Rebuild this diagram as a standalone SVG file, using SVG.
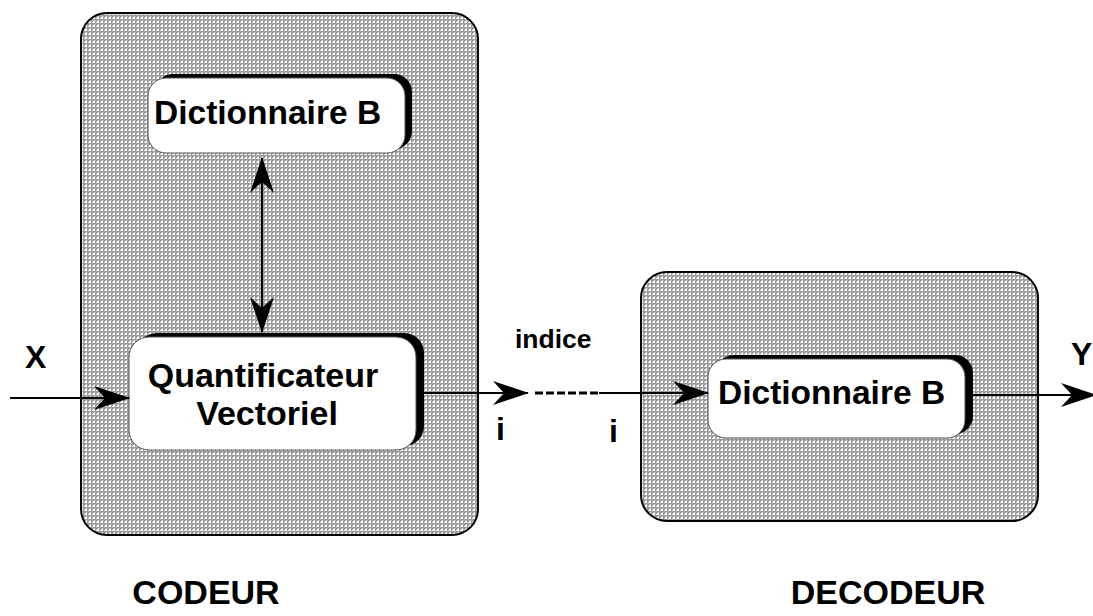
<svg xmlns="http://www.w3.org/2000/svg" width="1093" height="616" viewBox="0 0 1093 616">
  <defs>
    <!-- fine halftone fill used by the coder/decoder enclosures -->
    <pattern id="dots" width="4" height="4" patternUnits="userSpaceOnUse">
      <rect width="4" height="4" fill="#9c9c9c"/>
      <rect x="1" y="1" width="2" height="2" fill="#ffffff"/>
      <rect x="0" y="2" width="1" height="1" fill="#e0e0e0"/>
      <rect x="2" y="0" width="1" height="1" fill="#e0e0e0"/>
    </pattern>
    <marker id="head" viewBox="0 0 36 24" refX="35" refY="12" markerWidth="36" markerHeight="24" markerUnits="userSpaceOnUse" orient="auto-start-reverse">
      <path d="M0,0 L36,12 L0,24 L11,12 Z" fill="#000"/>
    </marker>
  </defs>
  <style>
    .frame { fill: url(#dots); stroke: #000; stroke-width: 2; }
    .shadow { fill: #000; }
    .card { fill: #fff; stroke: #555; stroke-width: 1; }
    .lbl { font-family: "Liberation Sans", Arial, sans-serif; font-weight: bold; fill: #000; }
    .wire { stroke: #000; stroke-width: 2; fill: none; }
  </style>

  <rect width="1093" height="616" fill="#fff"/>

  <!-- coder enclosure -->
  <g id="codeur">
    <rect class="frame" x="81" y="13" width="397" height="522" rx="26"/>
    <text class="lbl" x="206" y="604" font-size="34" text-anchor="middle">CODEUR</text>
  </g>

  <!-- decoder enclosure -->
  <g id="decodeur">
    <rect class="frame" x="641" y="272" width="397" height="249" rx="26"/>
    <text class="lbl" x="888" y="604" font-size="34" text-anchor="middle">DECODEUR</text>
  </g>

  <!-- codebook on the coder side -->
  <g id="dict-codeur">
    <rect class="shadow" x="155" y="74" width="257" height="75" rx="18"/>
    <rect class="card" x="148" y="78" width="257" height="75" rx="18"/>
    <text class="lbl" x="154" y="124" font-size="33.5">Dictionnaire B</text>
  </g>

  <!-- vector quantizer -->
  <g id="quantificateur">
    <rect class="shadow" x="137" y="333" width="287" height="113" rx="20"/>
    <rect class="card" x="129" y="337" width="287" height="113" rx="20"/>
    <text class="lbl" x="263" y="387" font-size="34" text-anchor="middle">Quantificateur</text>
    <text class="lbl" x="267" y="425" font-size="34" text-anchor="middle">Vectoriel</text>
  </g>

  <!-- codebook on the decoder side -->
  <g id="dict-decodeur">
    <rect class="shadow" x="716" y="355" width="257" height="79" rx="18"/>
    <rect class="card" x="708" y="359" width="257" height="79" rx="18"/>
    <text class="lbl" x="718" y="404" font-size="33.5">Dictionnaire B</text>
  </g>

  <!-- free labels -->
  <g id="labels">
    <text class="lbl" x="25" y="368" font-size="32">X</text>
    <text class="lbl" x="1071" y="365" font-size="32">Y</text>
    <text class="lbl" x="515" y="348" font-size="26.5">indice</text>
    <text class="lbl" x="496" y="440" font-size="32">i</text>
    <text class="lbl" x="609" y="442" font-size="32">i</text>
  </g>

  <!-- connectors -->
  <g id="connectors">
    <line class="wire" x1="10" y1="398" x2="129" y2="398" marker-end="url(#head)"/>
    <line class="wire" x1="262" y1="158" x2="262" y2="332" marker-start="url(#head)" marker-end="url(#head)"/>
    <line class="wire" x1="424" y1="393" x2="528" y2="393" marker-end="url(#head)"/>
    <line x1="535" y1="393" x2="599" y2="393" stroke="#000" stroke-width="3" stroke-dasharray="8 3"/>
    <line class="wire" x1="599" y1="393" x2="708" y2="393" marker-end="url(#head)"/>
    <line class="wire" x1="973" y1="395" x2="1096" y2="395" marker-end="url(#head)"/>
  </g>
</svg>
